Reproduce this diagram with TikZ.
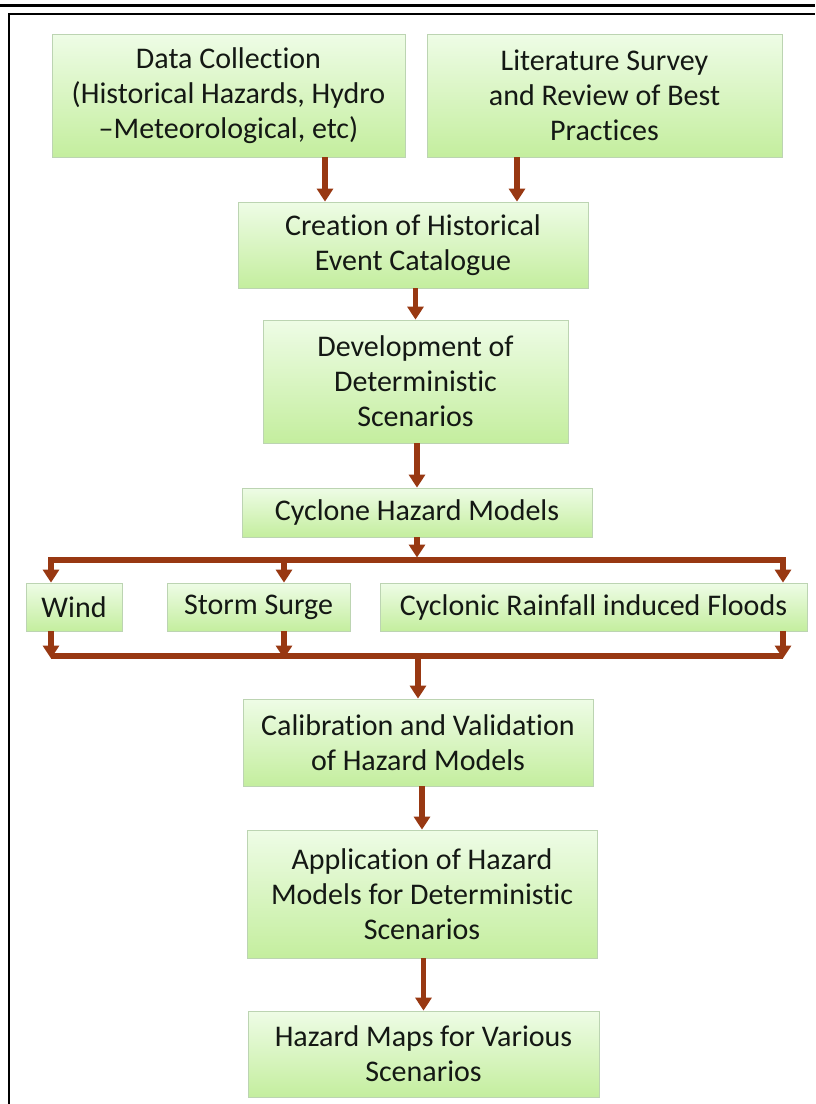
\documentclass[tikz,border=0pt]{standalone}
\usepackage{fontspec}
\setmainfont{Carlito}[Ligatures={NoCommon,TeX}]
\usetikzlibrary{arrows.meta}
\definecolor{arrowc}{RGB}{152,56,18}
\definecolor{boxtop}{RGB}{238,252,230}
\definecolor{boxbot}{RGB}{196,238,158}
\definecolor{boxline}{RGB}{188,212,178}
\definecolor{txt}{RGB}{20,24,20}
\tikzset{
  box/.style={draw=boxline, line width=0.8pt, top color=boxtop, bottom color=boxbot,
    align=center, inner sep=0pt, font=\fontsize{30}{35}\selectfont, text=txt},
  conn/.style={draw=arrowc, line width=5.5pt},
  arr/.style={conn, -{Triangle[width=16pt,length=13pt]}},
  frameline/.style={draw=black}
}
\begin{document}
\begin{tikzpicture}[x=1pt,y=-1pt]
\useasboundingbox (0,0) rectangle (815,1104);
\fill[white] (0,0) rectangle (815,1104);
% frame
\draw[frameline, line width=3.5pt] (0,5.5) -- (815,5.5);
\draw[frameline, line width=2.5pt] (9,1104) -- (9,14) -- (815,14);
% nodes
\node[box, minimum width=353, minimum height=123] (dc) at (228.5,95.5) {Data Collection\\(Historical Hazards, Hydro\\–Meteorological, etc)};
\node[box, minimum width=355, minimum height=123] (lit) at (604.5,95.5) {Literature Survey\\and Review of Best\\Practices};
\node[box, minimum width=350, minimum height=86] (cre) at (413,245) {Creation of Historical\\Event Catalogue};
\node[box, minimum width=305, minimum height=123] (dev) at (415.5,381.5) {Development of\\Deterministic\\Scenarios};
\node[box, minimum width=350, minimum height=49] (cyc) at (417,512.5) {Cyclone Hazard Models};
\node[box, minimum width=96, minimum height=48] (wind) at (74,607) {Wind};
\node[box, minimum width=183, minimum height=48] (storm) at (258.5,607) {Storm Surge};
\node[box, minimum width=427, minimum height=48] (flood) at (593.5,607) {Cyclonic Rainfall induced Floods};
\node[box, minimum width=350, minimum height=87] (cal) at (418,742.5) {Calibration and Validation\\of Hazard Models};
\node[box, minimum width=350, minimum height=128] (app) at (422,894) {Application of Hazard\\Models for Deterministic\\Scenarios};
\node[box, minimum width=351, minimum height=86] (haz) at (423.5,1054) {Hazard Maps for Various\\Scenarios};
% bus coordinates
\coordinate (b1L) at (51,560);
\coordinate (b1M) at (284,560);
\coordinate (b1R) at (783,560);
\coordinate (b2L) at (51,656);
\coordinate (b2M) at (284,656);
\coordinate (b2R) at (783,656);
% connectors
\draw[arr] ([xshift=96.5pt]dc.south) -- ([xshift=96.5pt]dc.south |- cre.north);
\draw[arr] ([xshift=-87.5pt]lit.south) -- ([xshift=-87.5pt]lit.south |- cre.north);
\draw[arr] (dev.north |- cre.south) -- (dev.north);
\draw[arr] (cyc.north |- dev.south) -- (cyc.north);
\draw[arr] (cyc.south) -- ([yshift=2.5pt]cyc.south |- b1M);
\draw[arr] (b1M) -| (b1L |- wind.north);
\draw[arr] (b1M) -| (b1R |- flood.north);
\draw[arr] (b1M) -- (b1M |- storm.north);
\draw[conn, line cap=square] (b2L) -- (b2R);
\draw[arr] (b2L |- wind.south) -- ([yshift=-2.5pt]b2L);
\draw[arr] (b2M |- storm.south) -- ([yshift=-2.5pt]b2M);
\draw[arr] (b2R |- flood.south) -- ([yshift=-2.5pt]b2R);
\draw[arr] (cal.north |- b2L) -- (cal.north);
\draw[arr] (app.north |- cal.south) -- (app.north);
\draw[arr] (haz.north |- app.south) -- (haz.north);
\end{tikzpicture}
\end{document}
